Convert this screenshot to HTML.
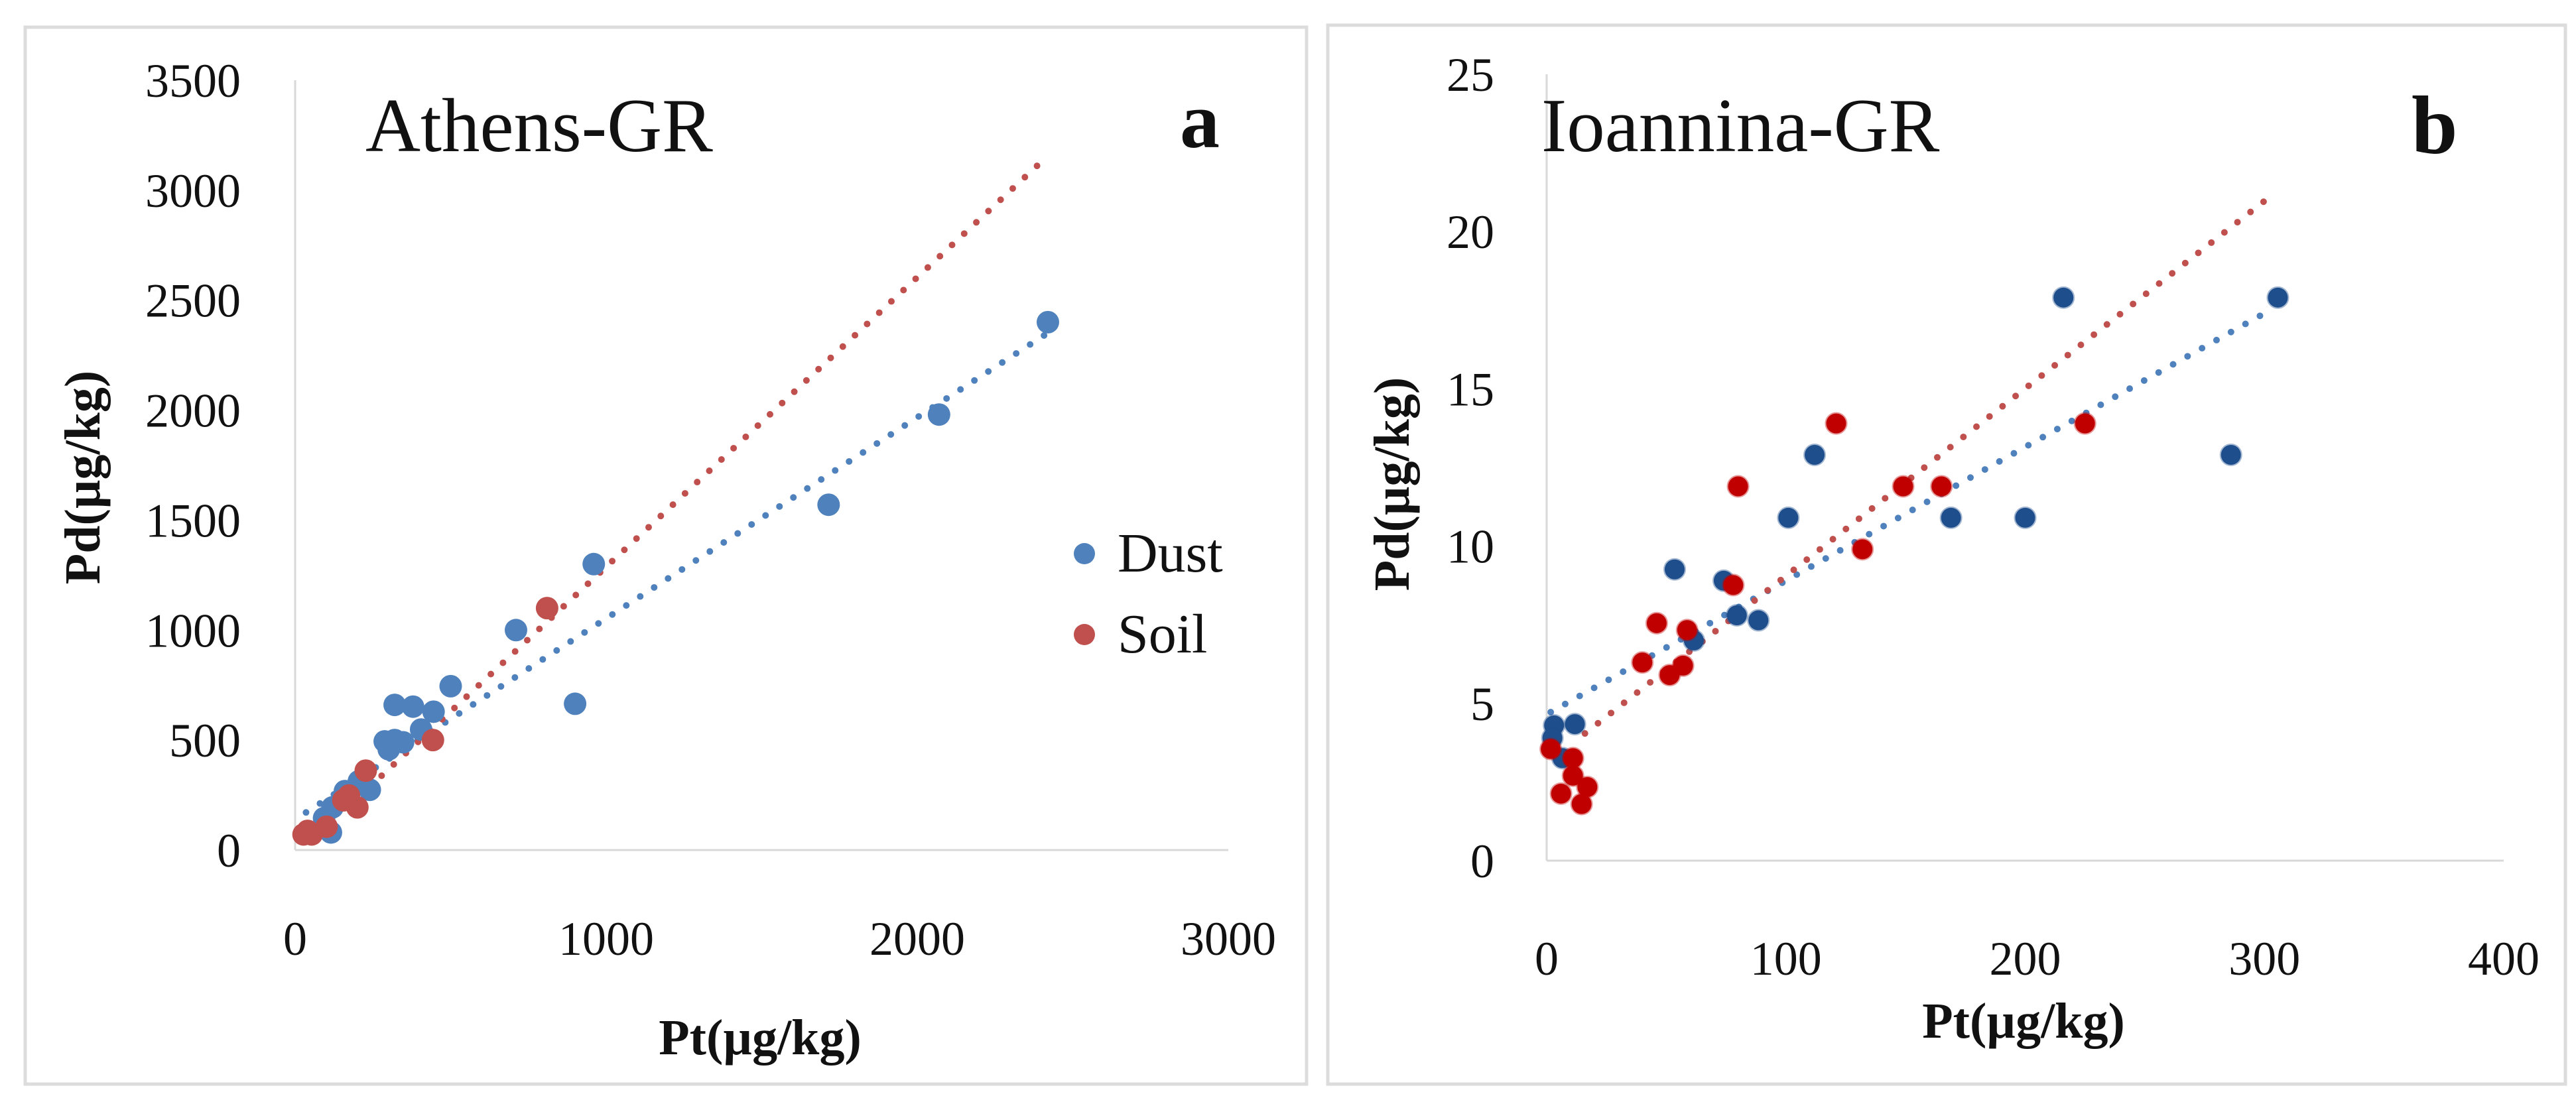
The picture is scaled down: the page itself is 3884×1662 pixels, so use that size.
<!DOCTYPE html>
<html><head><meta charset="utf-8">
<style>
html,body{margin:0;padding:0;background:#fff;}
svg{display:block;}
text{font-family:"Liberation Serif",serif;fill:#111;}
</style></head>
<body>
<svg id="c" width="3884" height="1662" viewBox="0 0 3884 1662" xmlns="http://www.w3.org/2000/svg">
<rect x="38" y="41" width="1932" height="1594" fill="none" stroke="#dcdcdc" stroke-width="5"/>
<rect x="2002" y="38" width="1866" height="1597" fill="none" stroke="#dcdcdc" stroke-width="5"/>
<g id="ga"></g>
<g id="gb"></g>
</svg>
<script>
// Panel a data (Athens)
const aXTicks = [0, 1000, 2000, 3000];
const aYTicks = [0, 500, 1000, 1500, 2000, 2500, 3000, 3500];
const aDustX = [2420, 2070, 1715, 960, 710, 900, 500, 320, 379, 445, 405, 288, 320, 301, 347, 240, 160, 205, 120, 115, 93];
const aDustY = [2400, 1980, 1570, 1300, 1000, 665, 745, 660, 652, 629, 548, 494, 500, 458, 490, 274, 268, 313, 194, 80, 145];
const aSoilX = [810, 443, 227, 200, 155, 173, 101, 53, 27, 40];
const aSoilY = [1100, 500, 361, 194, 226, 248, 106, 71, 71, 87];
const aDustTrend = [35, 2413];
const aDustFit = [0.914, 139];
const aSoilTrend = [200, 2395];
const aSoilFit = [1.316, -28];
// Panel b data (Ioannina)
const bXTicks = [0, 100, 200, 300, 400];
const bYTicks = [0, 5, 10, 15, 20, 25];
const bDustX = [216, 305.6, 286, 112, 101, 169, 200, 53.5, 74, 79.5, 88.5, 61.5, 11.8, 3.1, 2.4, 6.6];
const bDustY = [17.9, 17.9, 12.9, 12.9, 10.9, 10.9, 10.9, 9.26, 8.9, 7.8, 7.64, 7.0, 4.34, 4.3, 3.9, 3.26];
const bSoilX = [121, 225, 80, 149, 165, 132, 78, 46, 58.7, 40, 51.4, 57, 1.7, 11, 11, 17, 6, 14.6];
const bSoilY = [13.9, 13.9, 11.9, 11.9, 11.9, 9.9, 8.76, 7.55, 7.33, 6.3, 5.9, 6.2, 3.55, 3.26, 2.7, 2.34, 2.13, 1.8];
const bDustTrend = [1.7, 303.5];
const bDustFit = [0.0425, 4.65];
const bSoilTrend = [16, 301.7];
const bSoilFit = [0.0596, 3.09];

const NS = "http://www.w3.org/2000/svg";
function mk(parent, tag, attrs, txt) {
  const e = document.createElementNS(NS, tag);
  for (const k in attrs) e.setAttribute(k, attrs[k]);
  if (txt !== undefined) e.textContent = txt;
  parent.appendChild(e);
  return e;
}

function panel(g, cfg) {
  const sx = v => cfg.x0 + (v - cfg.xmin) / (cfg.xmax - cfg.xmin) * (cfg.x1 - cfg.x0);
  const sy = v => cfg.y0 - (v - cfg.ymin) / (cfg.ymax - cfg.ymin) * (cfg.y0 - cfg.y1);
  const ya = mk(g, 'line', {x1: cfg.x0, y1: cfg.y0, x2: cfg.x0, y2: cfg.y1, stroke: '#d9d9d9', 'stroke-width': 3});
  
  
  const xa = mk(g, 'line', {x1: cfg.x0, y1: cfg.y0, x2: cfg.x1, y2: cfg.y0, stroke: '#d9d9d9', 'stroke-width': 3});
  
  
  cfg.yTicks.forEach(v => {
    const t = mk(g, 'text', {x: cfg.yLabX, y: sy(v) + 25, 'text-anchor': 'end', 'font-size': 72}, String(v));
    
    
  });
  cfg.xTicks.forEach(v => {
    const t = mk(g, 'text', {x: sx(v), y: cfg.xLabY, 'text-anchor': 'middle', 'font-size': 72}, String(v));
    
    
  });
  function trend(rng, fit, color, name) {
    const l = mk(g, 'line', {x1: sx(rng[0]), y1: sy(fit[0]*rng[0]+fit[1]), x2: sx(rng[1]), y2: sy(fit[0]*rng[1]+fit[1]),
      stroke: color, 'stroke-width': 10, 'stroke-linecap': 'round', 'stroke-dasharray': '0 25'});
    
    
  }
  function pts(xs, ys, color, name) {
    xs.forEach((x, i) => {
      const c = mk(g, 'circle', {cx: sx(x), cy: sy(ys[i]), r: cfg.r, fill: color, stroke: cfg.halo ? color : 'none', 'stroke-opacity': 0.4, 'stroke-width': 4});
      
      
    });
  }
  trend(cfg.dT, cfg.dF, cfg.dTrendColor, 'dust-trendline');
  trend(cfg.sT, cfg.sF, cfg.sTrendColor, 'soil-trendline');
  pts(cfg.dX, cfg.dY, cfg.dColor, 'dust-point');
  pts(cfg.sX, cfg.sY, cfg.sColor, 'soil-point');
}

const ga = document.getElementById('ga');
panel(ga, {x0: 445, x1: 1852, y0: 1282, y1: 121, xmin: 0, xmax: 3000, ymin: 0, ymax: 3500,
  xTicks: aXTicks, yTicks: aYTicks, yLabX: 363, xLabY: 1440, r: 17,
  dX: aDustX, dY: aDustY, sX: aSoilX, sY: aSoilY, dT: aDustTrend, dF: aDustFit, sT: aSoilTrend, sF: aSoilFit,
  dColor: '#4f81bd', sColor: '#c0504d', dTrendColor: '#4f81bd', sTrendColor: '#c0504d'});
const gb = document.getElementById('gb');
panel(gb, {x0: 2332, x1: 3775, y0: 1298, y1: 112, xmin: 0, xmax: 400, ymin: 0, ymax: 25,
  xTicks: bXTicks, yTicks: bYTicks, yLabX: 2253, xLabY: 1470, r: 15, halo: true,
  dX: bDustX, dY: bDustY, sX: bSoilX, sY: bSoilY, dT: bDustTrend, dF: bDustFit, sT: bSoilTrend, sF: bSoilFit,
  dColor: '#1f4e8c', sColor: '#c00000', dTrendColor: '#4f81bd', sTrendColor: '#c0504d'});
</script>
<svg style="position:absolute;left:0;top:0" width="3884" height="1662">
<text x="551" y="228" font-size="115" style="font-family:'Liberation Serif',serif">Athens-GR</text>
<text x="1779" y="222" font-size="120" font-weight="bold" style="font-family:'Liberation Serif',serif">a</text>
<text x="1146" y="1590" font-size="76" font-weight="bold" text-anchor="middle" style="font-family:'Liberation Serif',serif">Pt(µg/kg)</text>
<text transform="translate(150,720) rotate(-90)" font-size="76" font-weight="bold" text-anchor="middle" style="font-family:'Liberation Serif',serif">Pd(µg/kg)</text>
<circle cx="1635" cy="835" r="16" fill="#4f81bd"/>
<text x="1685" y="862" font-size="84" style="font-family:'Liberation Serif',serif">Dust</text>
<circle cx="1635" cy="957" r="16" fill="#c0504d"/>
<text x="1685" y="984" font-size="84" style="font-family:'Liberation Serif',serif">Soil</text>
<text x="2324" y="228" font-size="115" style="font-family:'Liberation Serif',serif">Ioannina-GR</text>
<text x="3636" y="231" font-size="125" font-weight="bold" style="font-family:'Liberation Serif',serif">b</text>
<text x="3051" y="1565" font-size="76" font-weight="bold" text-anchor="middle" style="font-family:'Liberation Serif',serif">Pt(µg/kg)</text>
<text transform="translate(2124,730) rotate(-90)" font-size="76" font-weight="bold" text-anchor="middle" style="font-family:'Liberation Serif',serif">Pd(µg/kg)</text>
</svg>
</body></html>
